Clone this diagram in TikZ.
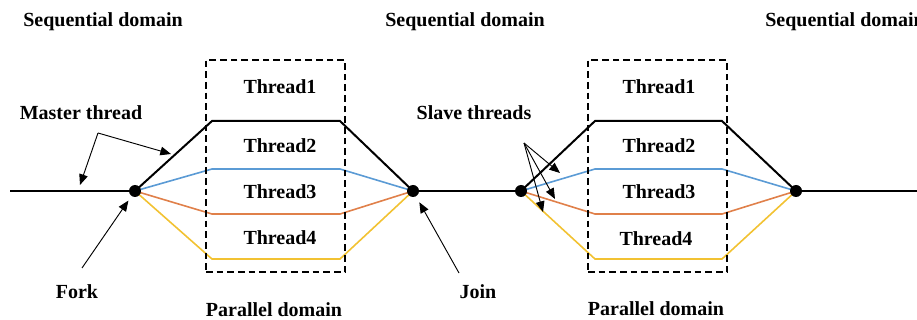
\documentclass[tikz,border=0pt]{standalone}
\usepackage{fontspec}
\setmainfont{Liberation Serif}
\usetikzlibrary{arrows.meta,backgrounds}
\definecolor{tblue}{HTML}{5B9BD5}
\definecolor{torange}{HTML}{E0804A}
\definecolor{tyellow}{HTML}{F2C232}
\begin{document}
\begin{tikzpicture}[x=0.75pt,y=-0.75pt,
  dot/.style={circle,fill=black,inner sep=0pt,minimum size=9pt},
  lbl/.style={font=\bfseries\fontsize{15}{18}\selectfont,inner sep=0pt},
  mainline/.style={line width=1.4pt},
  blackthr/.style={line width=1.5pt,black},
  bluethr/.style={line width=1.2pt,tblue},
  orangethr/.style={line width=1.2pt,torange},
  yellowthr/.style={line width=1.2pt,tyellow},
  pbox/.style={draw,line width=1.3pt,dash pattern=on 5pt off 3pt},
  pointer/.style={line width=0.7pt,-{Triangle[length=8pt,width=6.5pt]}}]
\useasboundingbox (0,0) rectangle (917,320);
% dots
\node[dot] (f1) at (135,191) {};
\node[dot] (j1) at (413,191) {};
\node[dot] (f2) at (521,191) {};
\node[dot] (j2) at (796,191) {};
\coordinate (start) at (10,191);
\coordinate (end) at (917,191);
% block corner coordinates
\foreach \b/\xl/\xr in {a/212/340,b/595/722}{
  \coordinate (\b k1) at (\xl,121); \coordinate (\b k2) at (\xr,121);
  \coordinate (\b b1) at (\xl,169); \coordinate (\b b2) at (\xr,169);
  \coordinate (\b o1) at (\xl,214); \coordinate (\b o2) at (\xr,214);
  \coordinate (\b y1) at (\xl,259); \coordinate (\b y2) at (\xr,259);
}
\begin{scope}[on background layer]
\draw[mainline] (start) -- (f1.center);
\draw[mainline] (j1.center) -- (f2.center);
\draw[mainline] (j2.center) -- (end);
\draw[blackthr] (f1.center) -- (ak1) -- (ak2) -- (j1.center);
\draw[bluethr] (f1.center) -- (ab1) -- (ab2) -- (j1.center);
\draw[orangethr] (f1.center) -- (ao1) -- (ao2) -- (j1.center);
\draw[yellowthr] (f1.center) -- (ay1) -- (ay2) -- (j1.center);
\draw[blackthr] (f2.center) -- (bk1) -- (bk2) -- (j2.center);
\draw[bluethr] (f2.center) -- (bb1) -- (bb2) -- (j2.center);
\draw[orangethr] (f2.center) -- (bo1) -- (bo2) -- (j2.center);
\draw[yellowthr] (f2.center) -- (by1) -- (by2) -- (j2.center);
\end{scope}
% dashed boxes
\node[pbox,minimum width=104.25pt,minimum height=159pt,inner sep=0pt] (box1) at (275.5,166) {};
\node[pbox,minimum width=104.25pt,minimum height=159pt,inner sep=0pt] (box2) at (657.5,166) {};
% thread labels
\node[lbl] (t11) at (280,87) {Thread1};
\node[lbl] (t12) at (280,146) {Thread2};
\node[lbl] (t13) at (280,192) {Thread3};
\node[lbl] (t14) at (280,238) {Thread4};
\node[lbl] (t21) at (659,87) {Thread1};
\node[lbl] (t22) at (659,146) {Thread2};
\node[lbl] (t23) at (659,192) {Thread3};
\node[lbl] (t24) at (656,239) {Thread4};
% domain labels
\node[lbl,anchor=west] (sd1) at (23,22) {Sequential domain};
\node[lbl,anchor=west] (sd2) at (385,22) {Sequential domain};
\node[lbl,anchor=west] (sd3) at (765,22) {Sequential domain};
\node[lbl] (pd1) at (274,309.5) {Parallel domain};
\node[lbl] (pd2) at (656,309) {Parallel domain};
% annotation labels
\node[lbl] (mt) at (81,113) {Master thread};
\node[lbl] (st) at (474,113) {Slave threads};
\node[lbl] (fk) at (77,292) {Fork};
\node[lbl] (jn) at (478,292) {Join};
% pointers
\coordinate (mts) at (98,133);
\coordinate (mte1) at (80,185);
\coordinate (mte2) at (171,154);
\draw[pointer] (mts) -- (mte1);
\draw[pointer] (mts) -- (mte2);
\coordinate (sts) at (524,143);
\coordinate (ste1) at (560,173);
\coordinate (ste2) at (555,199);
\coordinate (ste3) at (543,212);
\draw[pointer] (sts) -- (ste1);
\draw[pointer] (sts) -- (ste2);
\draw[pointer] (sts) -- (ste3);
\coordinate (fks) at (82,268);
\draw[pointer,shorten >=4pt] (fks) -- (f1);
\coordinate (jns) at (459,273);
\draw[pointer,shorten >=5pt] (jns) -- (j1);
\end{tikzpicture}
\end{document}
